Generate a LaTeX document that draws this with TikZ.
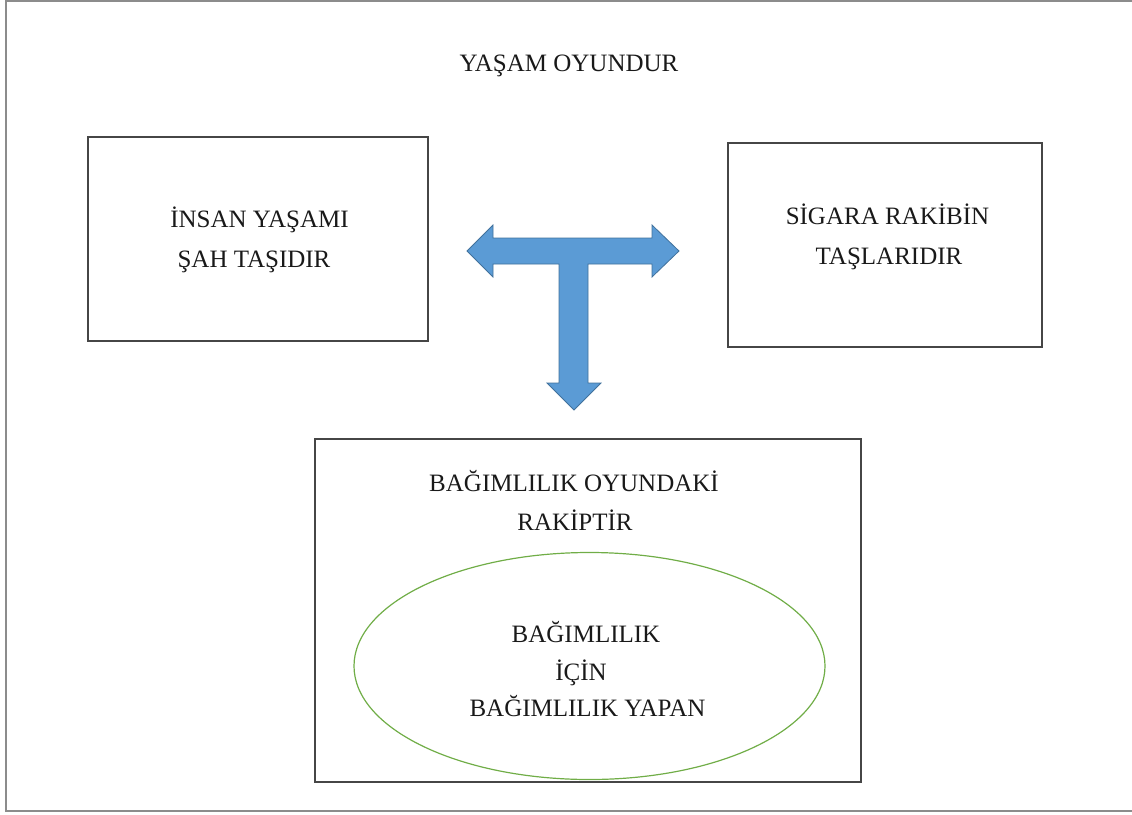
\documentclass[tikz,border=0pt]{standalone}
\usepackage{fontspec}
\usetikzlibrary{shapes.geometric}
\setmainfont{Liberation Serif}
\definecolor{arrowfill}{RGB}{91,155,213}
\definecolor{arrowline}{RGB}{65,113,156}
\definecolor{ellgreen}{RGB}{112,173,71}
\definecolor{boxline}{RGB}{70,70,70}
\definecolor{frameline}{RGB}{140,140,140}
\definecolor{txt}{RGB}{25,25,25}
\begin{document}
\begin{tikzpicture}[x=1pt,y=-1pt,
  box/.style={draw=boxline, line width=2pt, rectangle, inner sep=0pt, outer sep=0pt},
  oval/.style={draw=ellgreen, line width=1.2pt, ellipse, inner sep=0pt},
  lbl/.style={anchor=base, inner sep=0pt, text=txt, font=\fontsize{25}{30}\selectfont},
  bigarrow/.style={fill=arrowfill, draw=arrowline, line width=0.8pt, line join=miter}]
\useasboundingbox (0,0) rectangle (1132,814);
% outer frame (open on the right)
\coordinate (fr1) at (1132,1);
\coordinate (fr2) at (6,1);
\coordinate (fr3) at (6,811);
\coordinate (fr4) at (1132,811);
\draw[frameline, line width=2pt] (fr1) -- (fr2) -- (fr3) -- (fr4);

% title
\node[lbl] (title) at (569,71) {YAŞAM OYUNDUR};

% boxes
\node[box, minimum width=340pt, minimum height=204pt] (leftbox) at (258,239) {};
\node[box, minimum width=314pt, minimum height=204pt] (rightbox) at (885,245) {};
\node[box, minimum width=546pt, minimum height=343pt] (bottombox) at (588,610.5) {};
\node[oval, minimum width=471pt, minimum height=227pt] (oval) at (589.5,666) {};

% texts
\node[lbl] (l1) at (259.5,227) {İNSAN YAŞAMI};
\node[lbl] (l2) at (254,267) {ŞAH TAŞIDIR};
\node[lbl] (r1) at (887.5,224) {SİGARA RAKİBİN};
\node[lbl] (r2) at (889,264) {TAŞLARIDIR};
\node[lbl] (b1) at (574,491) {BAĞIMLILIK OYUNDAKİ};
\node[lbl] (b2) at (575,530) {RAKİPTİR};
\node[lbl] (e1) at (586,642) {BAĞIMLILIK};
\node[lbl] (e2) at (581,680) {İÇİN};
\node[lbl] (e3) at (587.5,716) {BAĞIMLILIK YAPAN};

% T-shaped block arrow
\draw[bigarrow] (467,251) -- (493,225) -- (493,238) -- (652,238) -- (652,225)
  -- (679,251) -- (652,277) -- (652,264) -- (588,264) -- (588,383) -- (601,383)
  -- (574,410) -- (547,383) -- (559,383) -- (559,264) -- (493,264) -- (493,277) -- cycle;
\end{tikzpicture}
\end{document}
